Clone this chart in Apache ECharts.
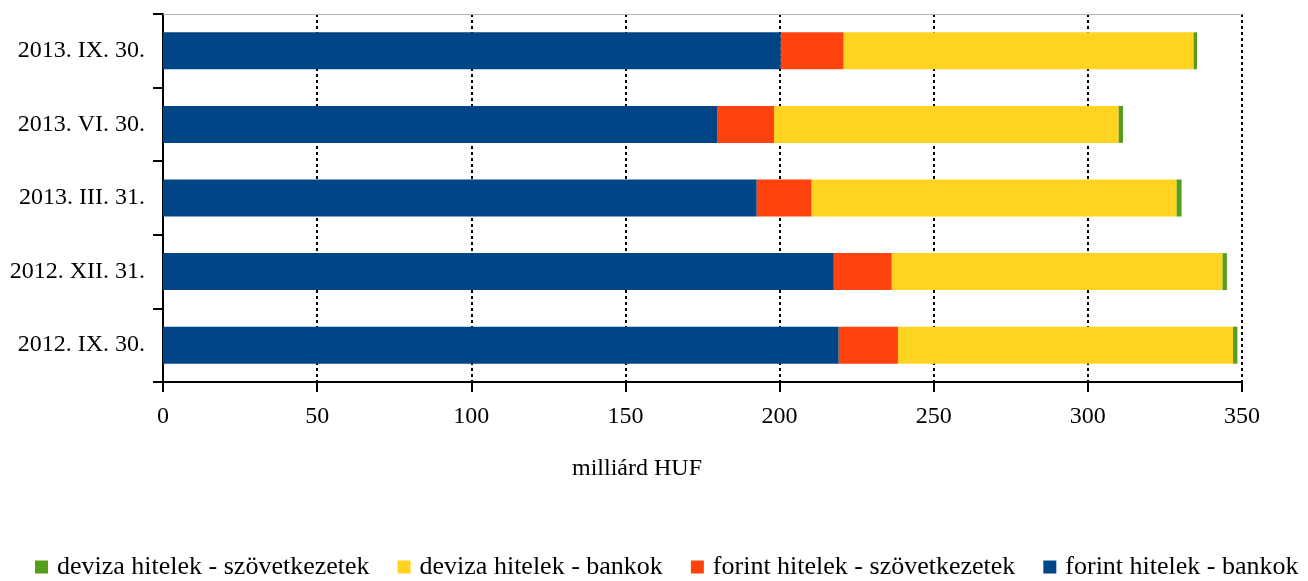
<!DOCTYPE html>
<html>
<head>
<meta charset="utf-8">
<script src="https://cdn.jsdelivr.net/npm/echarts@6/dist/echarts.min.js"></script>
<style>html,body{margin:0;padding:0;background:#fff;}#c{width:1308px;height:581px;}</style>
</head>
<body>
<div id="c"></div>
<script>
var categories = ['2012. IX. 30.', '2012. XII. 31.', '2013. III. 31.', '2013. VI. 30.', '2013. IX. 30.'];
var forintBankok = [219.2, 217.6, 192.6, 179.7, 200.4];
var forintSzov = [19.2, 18.8, 17.8, 18.5, 20.4];
var devizaBankok = [108.7, 107.3, 118.4, 111.8, 113.5];
var devizaSzov = [1.4, 1.4, 1.6, 1.4, 1.1];
var xTicks = [0, 50, 100, 150, 200, 250, 300, 350];
var axisName = 'milliárd HUF';

var FONT = 'Liberation Serif';
var chart = echarts.init(document.getElementById('c'));
function ser(name, data, color) {
  return {
    name: name, type: 'bar', stack: 'total', data: data, barWidth: 37,
    itemStyle: { color: color }, emphasis: { disabled: true }
  };
}
chart.setOption({
  animation: false,
  textStyle: { fontFamily: FONT, color: '#000' },
  title: {
    text: axisName, left: 632, top: 452, textAlign: 'center',
    textStyle: { fontFamily: FONT, fontSize: 24, fontWeight: 'normal', color: '#000' }
  },
  grid: { left: 163, right: 66, top: 14, bottom: 199, containLabel: false },
  legend: {
    top: 549, left: 30, itemWidth: 13, itemHeight: 13, itemGap: 28,
    icon: 'rect',
    data: ['deviza hitelek - szövetkezetek', 'deviza hitelek - bankok', 'forint hitelek - szövetkezetek', 'forint hitelek - bankok'],
    textStyle: { fontFamily: FONT, fontSize: 26, color: '#000', padding: [0, 0, 0, 4] }
  },
  xAxis: [{
    type: 'value', min: xTicks[0], max: xTicks[xTicks.length - 1], interval: 50,
    axisLine: { show: true, lineStyle: { color: '#000', width: 2 } },
    axisTick: { show: true, length: 10, lineStyle: { color: '#000', width: 2 } },
    axisLabel: { fontFamily: FONT, fontSize: 24, color: '#000', margin: 23 },
    splitLine: { show: true, lineStyle: { color: '#000', width: 2, type: [3, 3] } }
  }, {
    type: 'value', position: 'top', min: 0, max: 350, interval: 50,
    axisLine: { show: true, lineStyle: { color: '#b3b3b3', width: 1 } },
    axisTick: { show: false }, axisLabel: { show: false }, splitLine: { show: false }
  }],
  yAxis: {
    type: 'category', data: categories,
    axisLine: { show: true, lineStyle: { color: '#000', width: 2 } },
    axisTick: { show: true, length: 10, lineStyle: { color: '#000', width: 2 } },
    axisLabel: { fontFamily: FONT, fontSize: 24, color: '#000', margin: 18 }
  },
  series: [
    ser('forint hitelek - bankok', forintBankok, '#004586'),
    ser('forint hitelek - szövetkezetek', forintSzov, '#ff420e'),
    ser('deviza hitelek - bankok', devizaBankok, '#ffd320'),
    ser('deviza hitelek - szövetkezetek', devizaSzov, '#579d1c')
  ]
});
</script>
</body>
</html>
